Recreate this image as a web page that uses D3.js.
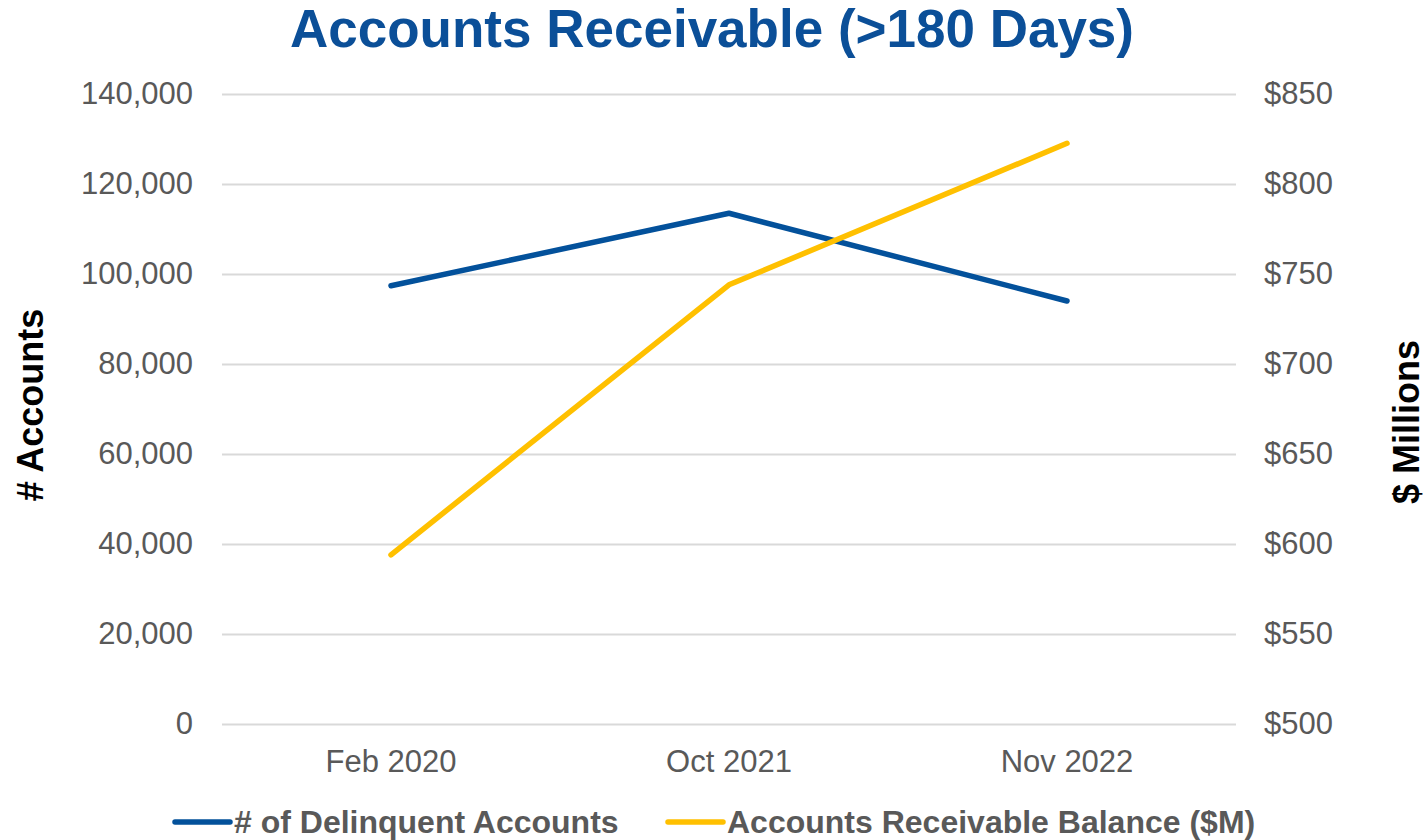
<!DOCTYPE html>
<html>
<head>
<meta charset="utf-8">
<script src="https://cdn.jsdelivr.net/npm/d3@7"></script>
<style>
  body { margin: 0; background: #fff; }
  text { font-family: "Liberation Sans", Arial, sans-serif; }
</style>
</head>
<body>
<div id="chartArea"></div>
<script>
// Accounts Receivable line chart, two y axes

var categories = ["Feb 2020", "Oct 2021", "Nov 2022"];
var accounts = [97400, 113500, 94000];      // # of delinquent accounts
var balance = [594, 744, 822.6];            // $M
var leftTicks = [0, 20000, 40000, 60000, 80000, 100000, 120000, 140000];
var rightTicks = [500, 550, 600, 650, 700, 750, 800, 850];
var seriesNames = ["# of Delinquent Accounts", "Accounts Receivable Balance ($M)"];

var width = 1427, height = 840;
// plot box (don't use "top" - it's window.top)
var plotL = 222, plotR = 1236, plotT = 94, plotB = 724;
var blue = "#03519b", gold = "#ffc000", grey = "#595959";

var svg = d3.select("#chartArea").append("svg")
    .attr("width", width)
    .attr("height", height);

var x = d3.scaleBand().domain(categories).range([plotL, plotR]).padding(0);
var yL = d3.scaleLinear().domain([0, 140000]).range([plotB, plotT]);
var yR = d3.scaleLinear().domain([500, 850]).range([plotB, plotT]);

// left axis + gridlines
var gl = svg.append("g")
    .attr("transform", "translate(" + plotL + ",0)")
    .call(d3.axisLeft(yL).tickValues(leftTicks)
        .tickSizeInner(-(plotR - plotL)).tickSizeOuter(0).tickPadding(29)
        .tickFormat(d3.format(",")));
gl.select(".domain").remove();
gl.selectAll("line").attr("stroke", "#d9d9d9").attr("stroke-width", 2);
gl.selectAll("text").attr("fill", grey).attr("font-size", 31)
    .attr("font-family", "'Liberation Sans', Arial, sans-serif");

// right axis
var gr = svg.append("g")
    .attr("transform", "translate(" + plotR + ",0)")
    .call(d3.axisRight(yR).tickValues(rightTicks)
        .tickSize(0).tickPadding(28)
        .tickFormat(function(d) { return "$" + d; }));
gr.select(".domain").remove();
gr.selectAll("text").attr("fill", grey).attr("font-size", 31)
    .attr("font-family", "'Liberation Sans', Arial, sans-serif");

// x axis
var gx = svg.append("g")
    .attr("transform", "translate(0," + plotB + ")")
    .call(d3.axisBottom(x).tickSize(0).tickPadding(26));
gx.select(".domain").remove();
gx.selectAll("text").attr("fill", grey).attr("font-size", 31)
    .attr("font-family", "'Liberation Sans', Arial, sans-serif");

var cx = function(i) { return x(categories[i]) + x.bandwidth() / 2; };

var lineL = d3.line().x(function(d, i) { return cx(i); }).y(function(d) { return yL(d); });
var lineR = d3.line().x(function(d, i) { return cx(i); }).y(function(d) { return yR(d); });

svg.append("path").datum(accounts)
    .attr("d", lineL)
    .attr("fill", "none").attr("stroke", blue).attr("stroke-width", 5.5)
    .attr("stroke-linecap", "round").attr("stroke-linejoin", "round");

svg.append("path").datum(balance)
    .attr("d", lineR)
    .attr("fill", "none").attr("stroke", gold).attr("stroke-width", 5.5)
    .attr("stroke-linecap", "round").attr("stroke-linejoin", "round");

// title
svg.append("text")
    .attr("x", 712).attr("y", 47)
    .attr("text-anchor", "middle")
    .attr("font-size", 53).attr("font-weight", "bold")
    .attr("fill", "#0b4f98")
    .text("Accounts Receivable (>180 Days)");

// axis titles
svg.append("text")
    .attr("transform", "translate(43,405)rotate(-90)")
    .attr("text-anchor", "middle")
    .attr("font-size", 36).attr("font-weight", "bold").attr("fill", "#000")
    .text("# Accounts");

svg.append("text")
    .attr("transform", "translate(1419,422)rotate(-90)")
    .attr("text-anchor", "middle")
    .attr("font-size", 36).attr("font-weight", "bold").attr("fill", "#000")
    .text("$ Millions");

// legend
var legend = [
    { name: seriesNames[0], color: blue, x: 175 },
    { name: seriesNames[1], color: gold, x: 668 }
];
var lg = svg.selectAll(".legend").data(legend).enter().append("g")
    .attr("class", "legend")
    .attr("transform", function(d) { return "translate(" + d.x + ",822)"; });
lg.append("line")
    .attr("x1", 0).attr("x2", 55).attr("y1", 0).attr("y2", 0)
    .attr("stroke", function(d) { return d.color; })
    .attr("stroke-width", 5.5).attr("stroke-linecap", "round");
lg.append("text")
    .attr("x", 59).attr("y", 11)
    .attr("font-size", 32).attr("font-weight", "bold").attr("fill", grey)
    .text(function(d) { return d.name; });
</script>
</body>
</html>
